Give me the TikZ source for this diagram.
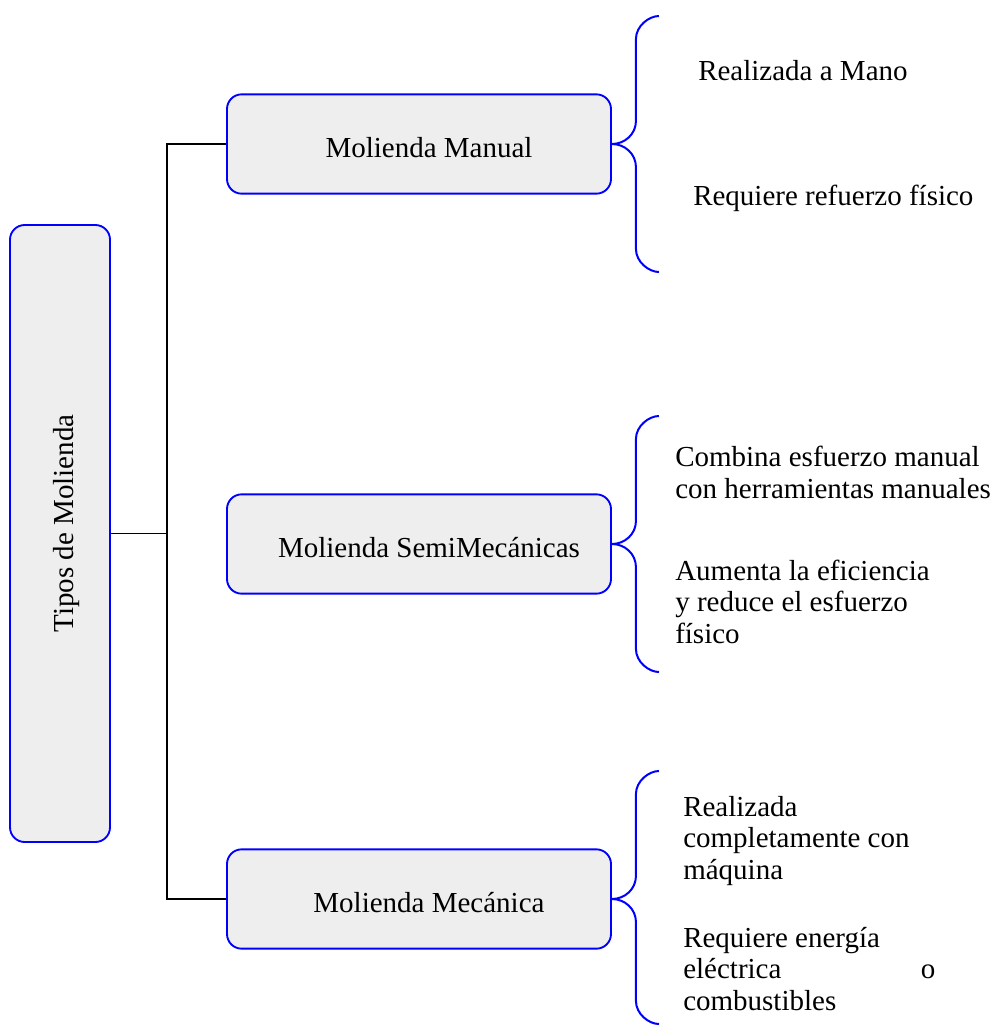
\documentclass[tikz,border=0pt]{standalone}
\usepackage{fontspec}
\setmainfont{Liberation Serif}
\definecolor{cajagris}{HTML}{EEEEEE}

\begin{document}
\begin{tikzpicture}[x=0.75pt,y=0.75pt,font=\fontsize{21.75}{23.6}\selectfont,
  caja/.style={draw=blue,fill=cajagris,line width=1.4pt,rounded corners=11pt,minimum width=288pt,minimum height=74.5pt,inner sep=0pt,text height=20pt,text depth=0pt,execute at begin node=\hspace*{15pt}},
  llave/.style={draw=blue,line width=1.5pt},
  linea/.style={draw=black,line width=1.3pt},
  detalle/.style={anchor=base west,inner sep=0pt,align=left}]
\useasboundingbox (0,0) rectangle (996,-1025);
\node[caja,rotate=90,minimum width=462.75pt,minimum height=75pt] (tipos-box) at (60,-533.5) {Tipos de Molienda};
\node[caja] (rama-0) at (419,-144) {Molienda Manual};
\node[caja] (rama-1) at (419,-544) {Molienda SemiMecánicas};
\node[caja] (rama-2) at (419,-899) {Molienda Mecánica};
\path (rama-0.west) ++(-59,0) coordinate (tronco);
\draw[linea] (rama-0.west) -- (tronco) |- (rama-2.west);
\draw[linea] (tipos-box.south) -- (tipos-box.south -| tronco);
\draw[llave] (rama-0.east) .. controls +(13,0) and +(0,-13) .. ++(24,23) -- ++(0,82) .. controls +(0,13) and +(-10,0) .. ++(23,23);
\draw[llave] (rama-0.east) .. controls +(13,0) and +(0,13) .. ++(24,-23) -- ++(0,-82) .. controls +(0,-13) and +(-10,0) .. ++(23,-23);
\draw[llave] (rama-1.east) .. controls +(13,0) and +(0,-13) .. ++(24,23) -- ++(0,82) .. controls +(0,13) and +(-10,0) .. ++(23,23);
\draw[llave] (rama-1.east) .. controls +(13,0) and +(0,13) .. ++(24,-23) -- ++(0,-82) .. controls +(0,-13) and +(-10,0) .. ++(23,-23);
\draw[llave] (rama-2.east) .. controls +(13,0) and +(0,-13) .. ++(24,23) -- ++(0,82) .. controls +(0,13) and +(-10,0) .. ++(23,23);
\draw[llave] (rama-2.east) .. controls +(13,0) and +(0,13) .. ++(24,-23) -- ++(0,-79) .. controls +(0,-13) and +(-10,0) .. ++(23,-23);
% multi-line nodes sit on the baseline of their last line
\node[detalle] (detalle-0-0) at (698,-80) {Realizada a Mano};
\node[detalle] (detalle-0-1) at (693,-205) {Requiere refuerzo físico};
\node[detalle] (detalle-1-0) at (675,-498) {Combina esfuerzo manual\\con herramientas manuales};
\node[detalle] (detalle-1-1) at (675,-643) {Aumenta la eficiencia\\y reduce el esfuerzo\\físico};
\node[detalle] (detalle-2-0) at (683,-879) {Realizada\\completamente con\\máquina};
\node[detalle] (detalle-2-1) at (683,-1010) {Requiere energía\\\makebox[189pt][l]{eléctrica\hfill o}\\combustibles};
\end{tikzpicture}
\end{document}
